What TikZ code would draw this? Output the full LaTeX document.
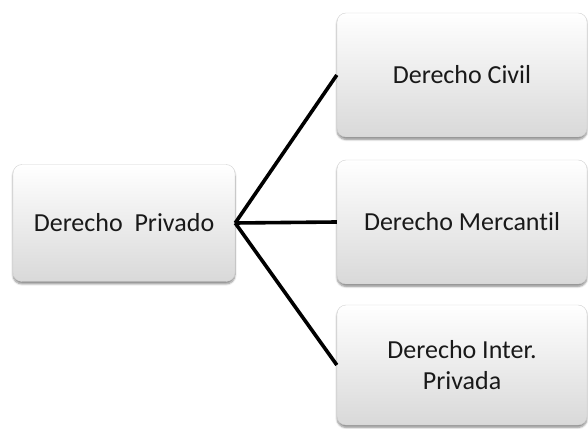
\documentclass[tikz,border=0pt]{standalone}
\usepackage{fontspec}
\setmainfont{Carlito}[Ligatures=NoCommon]
\usetikzlibrary{positioning, shadows.blur}
\tikzset{
    rama/.style={draw=gray!35, rounded corners=9pt, top color=white, bottom color=gray!30,
        blur shadow={shadow xshift=0pt, shadow yshift=-2.5pt, shadow blur steps=6, shadow opacity=45},
        font=\fontsize{26}{31}\selectfont, text=black!90, align=center, inner sep=0pt},
    enlace/.style={line width=3.6pt, black},
}

\begin{document}
\begin{tikzpicture}[x=1pt, y=1pt]
        \useasboundingbox (0,0) rectangle (588,428);
        % Nodos
        \node[rama, minimum width=222pt, minimum height=117pt] (priv) at (124,205) {Derecho\ \ Privado};
        \node[rama, minimum width=250pt, minimum height=124pt] (civil) at (462,353) {Derecho Civil};
        \node[rama, minimum width=250pt, minimum height=124pt] (merc) at (462,206) {Derecho Mercantil};
        \node[rama, minimum width=250pt, minimum height=120pt] (inter) at (462,63) {Derecho Inter.\\Privada};

        % Enlaces
        \draw[enlace] (priv.east) -- (civil.west);
        \draw[enlace] (priv.east) -- (merc.west);
        \draw[enlace] (priv.east) -- (inter.west);
    \end{tikzpicture}
\end{document}
